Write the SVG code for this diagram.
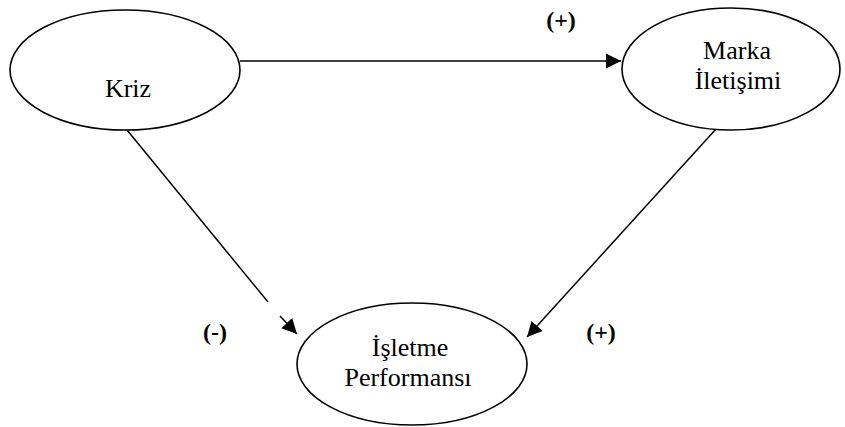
<svg xmlns="http://www.w3.org/2000/svg" width="845" height="427" viewBox="0 0 845 427">
<defs>
<style>
.node ellipse{fill:#fff;stroke:#000;stroke-width:1.6}
.edge{stroke:#000;stroke-width:1.5;fill:none}
.lbl{font-family:"Times New Roman","Liberation Serif","DejaVu Serif",serif;font-size:26px;text-anchor:middle;fill:#000}
.sign{font-family:"Times New Roman","Liberation Serif","DejaVu Serif",serif;font-size:24px;font-weight:bold;text-anchor:middle;fill:#000}
</style>
<marker id="ah" markerUnits="userSpaceOnUse" markerWidth="16" markerHeight="16" viewBox="0 0 16 16" refX="15" refY="8" orient="auto">
<path d="M0,0.5 L15,8 L0,15.5 Z" fill="#000"/>
</marker>
</defs>
<rect width="845" height="427" fill="#fff"/>
<g id="connectors">
<line class="edge" x1="240" y1="61" x2="621" y2="61" marker-end="url(#ah)"/>
<line class="edge" x1="127" y1="130" x2="268" y2="302"/>
<line class="edge" x1="280" y1="316" x2="297" y2="334" marker-end="url(#ah)"/>
<line class="edge" x1="716" y1="129" x2="527" y2="337" marker-end="url(#ah)"/>
</g>
<g id="kriz" class="node">
<ellipse cx="125" cy="70" rx="115" ry="60"/>
<text class="lbl" x="128" y="97">Kriz</text>
</g>
<g id="marka" class="node">
<ellipse cx="731" cy="69" rx="109" ry="61"/>
<text class="lbl" x="737" y="59">Marka</text>
<text class="lbl" x="738" y="89">İletişimi</text>
</g>
<g id="isletme" class="node">
<ellipse cx="412" cy="364" rx="115" ry="61"/>
<text class="lbl" x="410" y="356">İşletme</text>
<text class="lbl" x="408" y="386">Performansı</text>
</g>
<g id="labels">
<text class="sign" x="561" y="28">(+)</text>
<text class="sign" x="215" y="340">(-)</text>
<text class="sign" x="601" y="340">(+)</text>
</g>
</svg>
